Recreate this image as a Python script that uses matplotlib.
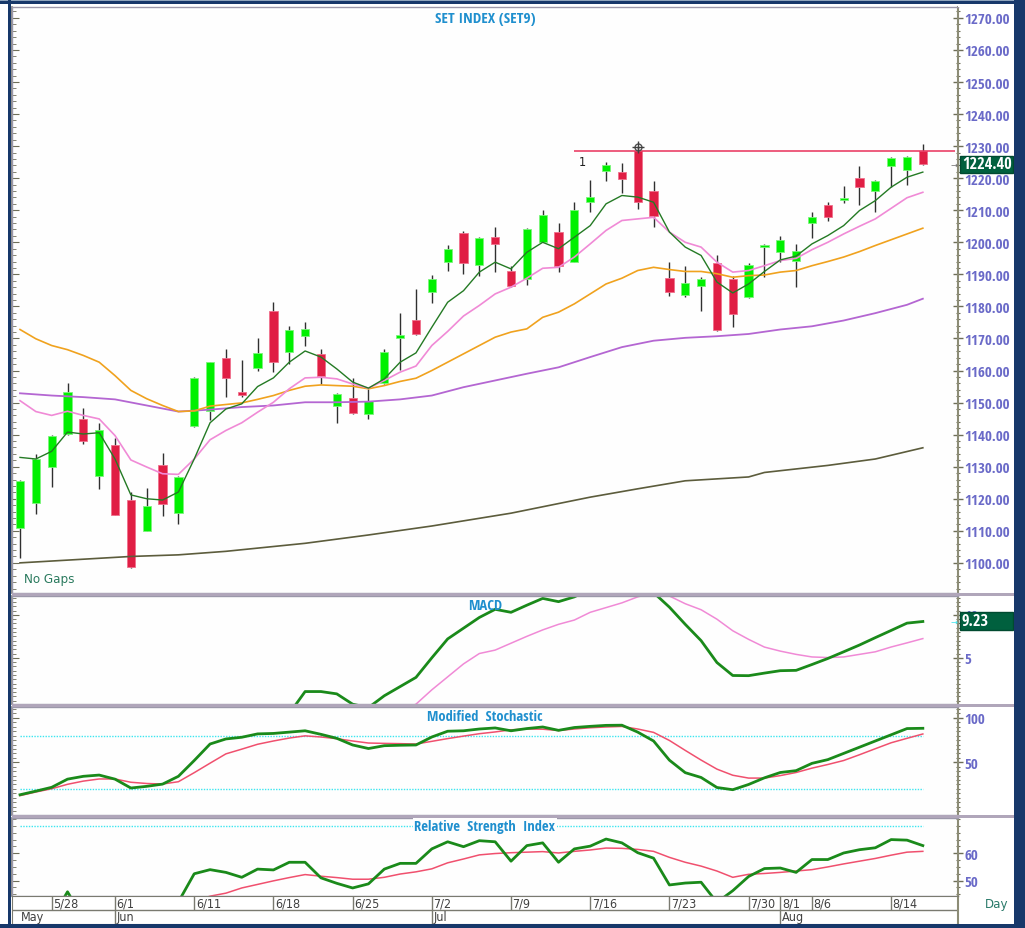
import os
import matplotlib
matplotlib.use('Agg')
import matplotlib.pyplot as plt
import matplotlib.ticker as mtick
import matplotlib.transforms as mtrans
from matplotlib import font_manager
from matplotlib.font_manager import FontProperties
from matplotlib.patches import Rectangle
import numpy as np

# ---------------- data (x = trading day index) ----------------
opens = [1110.9, 1118.7, 1130.0, 1140.1, 1144.9, 1127.2, 1136.9, 1119.7, 1110.0, 1130.6,
         1115.7, 1142.8, 1147.5, 1163.9, 1153.3, 1160.7, 1178.5, 1165.9, 1170.9, 1165.0,
         1148.8, 1151.4, 1146.4, 1156.1, 1170.1, 1175.7, 1184.6, 1193.8, 1202.8, 1193.0,
         1201.8, 1191.2, 1188.6, 1200.2, 1203.2, 1194.0, 1212.7, 1222.1, 1221.9, 1228.6,
         1216.1, 1188.8, 1183.5, 1186.3, 1193.5, 1188.6, 1182.9, 1198.4, 1196.9, 1194.3,
         1206.0, 1211.5, 1213.3, 1220.1, 1216.1, 1223.7, 1222.7, 1228.4]
highs = [1125.8, 1134.0, 1140.0, 1156.1, 1148.3, 1143.6, 1138.9, 1122.1, 1123.3, 1134.3,
         1127.0, 1158.0, 1162.8, 1166.8, 1163.3, 1170.1, 1181.3, 1174.0, 1175.1, 1166.8,
         1153.0, 1157.6, 1154.3, 1166.8, 1177.8, 1185.5, 1189.8, 1199.2, 1203.6, 1201.6,
         1204.8, 1192.7, 1204.4, 1210.2, 1206.0, 1212.5, 1219.3, 1225.0, 1224.7, 1229.7,
         1219.0, 1193.8, 1192.7, 1189.1, 1196.1, 1189.6, 1193.5, 1199.5, 1201.9, 1199.5,
         1209.6, 1212.7, 1217.7, 1223.9, 1219.5, 1226.6, 1226.9, 1230.7]
lows = [1101.6, 1115.3, 1123.6, 1140.0, 1137.0, 1122.9, 1114.8, 1098.5, 1109.8, 1114.7,
        1112.0, 1142.5, 1144.7, 1151.7, 1151.7, 1159.7, 1159.5, 1161.9, 1167.5, 1155.7,
        1143.7, 1146.5, 1144.9, 1155.8, 1160.3, 1171.2, 1181.0, 1191.2, 1190.2, 1189.6,
        1190.7, 1186.0, 1186.8, 1200.0, 1190.7, 1193.8, 1209.4, 1219.0, 1215.3, 1210.4,
        1204.7, 1183.2, 1182.9, 1178.7, 1172.3, 1173.5, 1182.7, 1189.1, 1193.8, 1186.0,
        1201.3, 1206.5, 1212.3, 1211.5, 1209.4, 1217.2, 1218.0, 1224.0]
closes = [1125.6, 1132.4, 1139.6, 1153.3, 1138.1, 1141.3, 1115.0, 1098.7, 1117.8, 1118.3,
          1126.8, 1157.6, 1162.6, 1157.8, 1152.4, 1165.4, 1162.8, 1172.7, 1173.0, 1158.4,
          1152.6, 1146.7, 1150.5, 1165.7, 1171.1, 1171.5, 1188.4, 1198.0, 1193.5, 1201.4,
          1199.6, 1186.3, 1204.2, 1208.6, 1192.6, 1210.2, 1214.2, 1224.2, 1219.6, 1212.7,
          1208.3, 1184.5, 1187.3, 1188.4, 1172.5, 1177.7, 1193.0, 1199.2, 1200.8, 1197.4,
          1207.8, 1207.8, 1213.8, 1217.4, 1219.1, 1226.4, 1226.6, 1224.4]

ma_fast = [1132.9, 1132.4, 1134.8, 1140.8, 1140.2, 1140.6, 1132.4, 1121.2, 1120.0, 1119.6,
           1122.1, 1132.4, 1143.7, 1148.0, 1149.6, 1155.0, 1157.7, 1162.6, 1166.1, 1164.2,
           1160.5, 1156.4, 1154.5, 1157.4, 1162.6, 1165.5, 1173.5, 1181.3, 1184.9, 1190.7,
           1193.8, 1191.7, 1196.9, 1200.0, 1198.0, 1201.6, 1205.2, 1212.0, 1214.6, 1214.1,
           1212.5, 1203.2, 1198.5, 1195.9, 1187.6, 1184.2, 1187.0, 1190.9, 1194.5, 1195.7,
           1199.5, 1202.1, 1205.2, 1209.9, 1213.0, 1217.2, 1220.3, 1221.9]
ma_pink = [1150.6, 1147.2, 1146.0, 1147.3, 1146.0, 1144.9, 1139.7, 1132.1, 1129.9, 1127.8,
           1127.6, 1132.4, 1138.4, 1141.3, 1143.7, 1147.0, 1150.1, 1154.3, 1157.7, 1157.9,
           1157.4, 1155.8, 1154.5, 1156.9, 1159.5, 1161.4, 1167.8, 1172.2, 1177.0, 1180.3,
           1183.9, 1186.0, 1188.8, 1191.9, 1192.2, 1195.4, 1199.5, 1203.7, 1206.8, 1207.3,
           1207.8, 1203.2, 1200.0, 1198.5, 1193.8, 1190.7, 1191.2, 1192.7, 1194.3, 1195.0,
           1197.7, 1200.0, 1202.6, 1205.0, 1207.3, 1210.6, 1213.9, 1215.6]
ma_orange = [1172.8, 1169.9, 1167.8, 1166.5, 1164.7, 1162.6, 1158.4, 1153.8, 1151.2, 1149.1,
             1147.2, 1147.4, 1148.9, 1149.4, 1149.9, 1151.0, 1152.2, 1153.8, 1155.1, 1155.5,
             1155.3, 1155.1, 1154.3, 1155.3, 1156.6, 1157.6, 1160.0, 1162.6, 1165.2, 1167.8,
             1170.4, 1172.0, 1173.0, 1176.6, 1178.2, 1180.8, 1183.9, 1187.0, 1188.8, 1191.2,
             1192.2, 1191.5, 1190.9, 1190.9, 1190.2, 1189.1, 1189.6, 1189.8, 1190.7, 1191.2,
             1192.7, 1194.0, 1195.4, 1197.1, 1199.0, 1200.8, 1202.6, 1204.4]
ma_purple_days = [0, 2, 4, 6, 8, 10, 12, 14, 16, 18, 20, 22, 24, 26, 28, 30,
                  32, 34, 36, 38, 40, 42, 44, 46, 48, 50, 52, 54, 56, 57]
ma_purple = [1152.9, 1152.2, 1151.7, 1151.0, 1149.1, 1147.2, 1147.8, 1148.6, 1149.1, 1150.1,
             1150.1, 1150.3, 1151.0, 1152.2, 1154.8, 1156.9, 1159.0, 1161.0, 1164.2, 1167.3,
             1169.3, 1170.2, 1170.7, 1171.4, 1172.8, 1173.8, 1175.6, 1177.9, 1180.5, 1182.4]
ma_olive_days = [0, 7, 10, 13, 18, 22, 26, 31, 36, 39, 42, 46, 47, 51, 54, 57]
ma_olive = [1100.0, 1102.0, 1102.5, 1103.6, 1106.1, 1108.7, 1111.5, 1115.5, 1120.5, 1123.1,
            1125.6, 1126.8, 1128.2, 1130.4, 1132.4, 1135.9]

resistance_level = 1228.5
resistance_from = 35
peak_day = 39

nan = np.nan
macd = [nan] * 17 + [-1.5, 1.07, 1.07, 0.8, -0.4, -0.8, 0.58, 1.65, 2.72, 5.0, 7.2, 8.45, 9.7,
        10.65, 10.3, 11.13, 11.92, 11.54, 12.1, 13.0, 13.6, 13.8, 13.4, 12.6, 10.9, 8.9, 7.0,
        4.45, 2.94, 2.92, 3.22, 3.5, 3.54, 4.22, 4.92, 5.7, 6.49, 7.35, 8.19, 9.04, 9.23]
macd_signal = [nan] * 24 + [-1.2, -0.4, 1.27, 2.78, 4.29, 5.5, 5.9, 6.7, 7.5, 8.25, 8.9, 9.4,
               10.3, 10.85, 11.4, 12.1, 12.6, 12.2, 11.3, 10.6, 9.5, 8.15, 7.15, 6.25, 5.78,
               5.4, 5.1, 5.03, 5.1, 5.4, 5.7, 6.26, 6.74, 7.24]

stoch_k = [13.4, 17.5, 21.8, 31.0, 34.2, 35.6, 31.0, 21.0, 22.9, 25.4,
           34.2, 52.0, 70.6, 76.3, 78.2, 82.0, 82.5, 84.0, 85.5, 81.5,
           77.0, 69.5, 65.5, 68.7, 69.2, 69.5, 78.5, 85.0, 85.5, 87.5,
           88.7, 85.5, 88.0, 89.8, 86.0, 89.2, 90.5, 91.6, 91.8, 84.0,
           74.0, 52.4, 38.3, 32.9, 21.6, 19.1, 25.0, 32.5, 38.5, 40.6,
           48.8, 53.0, 60.0, 67.0, 74.0, 81.0, 88.0, 88.3]
stoch_d = [12.4, 16.5, 20.2, 25.2, 28.8, 31.2, 31.2, 27.5, 26.1, 25.5,
           28.1, 38.3, 49.0, 59.5, 64.8, 70.3, 74.0, 77.3, 79.8, 78.5,
           76.6, 74.0, 71.7, 71.3, 71.0, 70.6, 73.6, 76.7, 79.5, 82.2,
           84.2, 86.6, 87.5, 87.3, 85.8, 87.5, 88.9, 89.8, 90.4, 87.5,
           83.7, 74.6, 63.4, 52.5, 42.3, 35.4, 32.2, 32.2, 35.0, 38.5,
           43.4, 47.5, 52.0, 58.5, 65.3, 72.0, 77.0, 81.9]

rsi = [nan, nan, 36.0, 45.9, 36.0, nan, nan, nan, nan, nan,
       42.2, 52.5, 54.0, 53.0, 51.2, 54.2, 53.9, 56.7, 56.7, 51.0,
       49.0, 47.3, 48.8, 54.2, 56.3, 56.3, 61.6, 64.2, 62.4, 64.6,
       64.2, 57.1, 62.8, 63.8, 56.7, 61.6, 62.6, 65.2, 63.8, 60.2,
       58.2, 48.4, 49.1, 49.4, 42.0, 46.3, 51.5, 54.4, 54.6, 53.0,
       57.7, 57.7, 60.1, 61.3, 62.0, 65.0, 64.8, 62.8]
rsi_signal = [nan] * 11 + [42.5, 44.3, 45.4, 47.3, 48.6, 49.9, 51.1, 52.2, 51.6, 51.1,
              50.5, 50.5, 51.2, 52.4, 53.2, 54.3, 56.5, 57.9, 59.4, 59.9,
              60.2, 60.4, 60.6, 60.1, 60.7, 61.2, 61.9, 61.8, 61.4, 60.7,
              58.5, 56.7, 55.3, 53.5, 51.2, 52.3, 52.6, 53.0, 53.5, 54.0,
              55.0, 56.1, 57.1, 58.1, 59.3, 60.4, 60.7]

date_ticks = [2, 6, 11, 16, 21, 26, 31, 36, 41, 46, 48, 50, 55]
date_labels = ['5/28', '6/1', '6/11', '6/18', '6/25', '7/2', '7/9', '7/16', '7/23',
               '7/30', '8/1', '8/6', '8/14']
month_starts = [-0.5, 6, 26, 48]
month_labels = ['May', 'Jun', 'Jul', 'Aug']

# ---------------- fonts: the original uses a narrow face ----------------
def find_narrow(bold):
    cands = []
    for f in font_manager.fontManager.ttflist:
        fn = os.path.basename(f.fname).lower()
        st = str(f.stretch).lower()
        if 'mono' in fn or 'cjk' in fn or 'serif' in fn.replace('sans', ''):
            continue
        narrow = ('narrow' in fn or 'condensed' in fn or 'condensed' in st or 'narrow' in st)
        if not narrow or 'oblique' in fn or 'italic' in fn:
            continue
        isbold = 'bold' in fn or str(f.weight) in ('bold', '700')
        if isbold == bold:
            cands.append(f.fname)
    cands.sort(key=lambda p: (0 if 'liberation' in p.lower() else 1, len(p)))
    return cands[0] if cands else None


nb, nr = find_narrow(True), find_narrow(False)
if nb and nr:
    FP_B, FP_R, SCALE = FontProperties(fname=nb), FontProperties(fname=nr), 1.0
else:
    FP_B = FontProperties(family='Liberation Sans', weight='bold')
    FP_R = FontProperties(family='Liberation Sans')
    SCALE = 0.8


def fb(size):
    p = FP_B.copy()
    p.set_size(size * SCALE)
    return p


def fr(size):
    p = FP_R.copy()
    p.set_size(size * SCALE)
    return p


# ---------------- layout / style ----------------
W, H = 1025, 929
X0, X1 = 12, 958
XLIM = (-0.505, 59.22)
AXIS_BLUE = '#6a6ac8'
TITLE_BLUE = '#1f8fce'
CYAN = '#3ce6f0'
FRAME = '#9c98aa'
TICK = '#6e6e58'

days = np.arange(len(closes))
fig = plt.figure(figsize=(W / 100, H / 100), dpi=100)
fig.patch.set_facecolor('white')


def panel(top, bottom):
    return fig.add_axes([X0 / W, 1 - bottom / H, (X1 - X0) / W, (bottom - top) / H])


def style(ax, ylim, major, labels, minor):
    ax.set_xlim(XLIM)
    ax.set_ylim(ylim)
    ax.set_facecolor('#fefefe')
    for s in ax.spines.values():
        s.set_color(FRAME)
        s.set_linewidth(1.0)
    ax.spines['right'].set_color('#8c8c76')
    ax.spines['right'].set_linewidth(1.5)
    ax.xaxis.set_visible(False)
    ax.yaxis.tick_right()
    ax.yaxis.set_major_locator(mtick.FixedLocator(major))
    ax.yaxis.set_major_formatter(mtick.FixedFormatter(labels))
    ax.yaxis.set_minor_locator(mtick.MultipleLocator(minor))
    ax.tick_params(axis='y', which='major', direction='inout', length=7, width=1,
                   color=TICK, pad=1, labelcolor=AXIS_BLUE)
    ax.tick_params(axis='y', which='minor', direction='inout', length=3, width=0.8, color=TICK)
    for lab in ax.get_yticklabels():
        lab.set_fontproperties(fb(10.8))
    left = ax.secondary_yaxis('left')
    left.yaxis.set_major_locator(mtick.FixedLocator(major))
    left.yaxis.set_minor_locator(mtick.MultipleLocator(minor))
    left.tick_params(which='major', direction='in', length=5, color=TICK, labelleft=False)
    left.tick_params(which='minor', direction='in', length=3, color=TICK)
    left.spines['left'].set_color('#7a7a70')
    left.spines['left'].set_linewidth(1.2)


def value_box(ax, value, text, box_px, arrow_color):
    y0, y1 = ax.get_ylim()
    h = box_px / (ax.get_position().height * H) * (y1 - y0)
    trans = mtrans.blended_transform_factory(ax.transAxes, ax.transData)
    ax.add_patch(Rectangle((1.0025, value - h / 2), 0.0555, h, transform=trans,
                           facecolor='#00603e', edgecolor='#004a30', clip_on=False, zorder=6))
    ax.text(1.0040, value, text, transform=trans, va='center', ha='left', color='white',
            fontproperties=fb(11.8), clip_on=False, zorder=7)
    ax.text(0.9955, value, '→', transform=trans, va='center', ha='center',
            color=arrow_color, fontsize=6, clip_on=False, family='DejaVu Sans')


# ---------------- main price panel ----------------
ax = panel(8, 594)
style(ax, (1090.6, 1273.4), list(range(1100, 1271, 10)),
      ['%.2f' % v for v in range(1100, 1271, 10)], 2)

ax.plot(ma_olive_days, ma_olive, color='#5c5c3c', lw=1.2, zorder=3)
ax.plot(ma_purple_days, ma_purple, color='#b466d2', lw=1.3, zorder=3)
ax.plot(days, ma_orange, color='#f0a21e', lw=1.2, zorder=3)
ax.plot(days, ma_pink, color='#f08ad6', lw=1.2, zorder=3)

for d in days:
    o, h, l, c = opens[d], highs[d], lows[d], closes[d]
    up = c >= o
    ax.vlines(d, l, h, color='#303030', lw=1, zorder=2)
    ax.add_patch(Rectangle((d - 0.26, min(o, c)), 0.52, max(abs(c - o), 0.5),
                           facecolor='#00f000' if up else '#e01e44',
                           edgecolor='#7cf47c' if up else '#f0708c', lw=0.6, zorder=2.5))

ax.plot(days, ma_fast, color='#247a24', lw=1.0, zorder=4)

ax.hlines(resistance_level, resistance_from, XLIM[1] - 0.2, color='#e8305a', lw=1.1, zorder=4)
ax.annotate('1', (resistance_from, resistance_level), xytext=(3, -3), textcoords='offset points',
            ha='left', va='top', fontproperties=fr(9), color='#202020')
ax.plot(peak_day, highs[peak_day], marker='o', ms=5, mfc='none', mec='#505050', zorder=5)
ax.plot(peak_day, highs[peak_day], marker='+', ms=8, color='#404040', zorder=5)

ax.text(0.5, 0.994, 'SET INDEX (SET9)', transform=ax.transAxes, ha='center', va='top',
        color=TITLE_BLUE, fontproperties=fb(11))
ax.text(0.0127, 0.013, 'No Gaps', transform=ax.transAxes, ha='left', va='bottom',
        color='#2a7a5e', fontproperties=fr(9.5))
value_box(ax, closes[-1], '%.2f' % closes[-1], 17, '#707070')

# ---------------- MACD ----------------
ax_m = panel(597, 705)
style(ax_m, (-0.38, 12.2), [5, 10], ['5', '10'], 0.5)
ax_m.plot(days, macd_signal, color='#f08ad6', lw=1.1)
ax_m.plot(days, macd, color='#1a8a1a', lw=2.0)
ax_m.text(0.5, 0.985, 'MACD', transform=ax_m.transAxes, ha='center', va='top',
          color=TITLE_BLUE, fontproperties=fb(10.5))
value_box(ax_m, macd[-1], '%.2f' % macd[-1], 18, CYAN)

# ---------------- Modified Stochastic ----------------
ax_s = panel(708, 816)
style(ax_s, (-9.4, 112.3), [50, 100], ['50', '100'], 5)
ax_s.plot([days[0], days[-1]], [80, 80], color=CYAN, lw=1, ls=(0, (1, 1)))
ax_s.plot([days[0], days[-1]], [20, 20], color=CYAN, lw=1, ls=(0, (1, 1)))
ax_s.plot(days, stoch_d, color='#f0506e', lw=1.1)
ax_s.plot(days, stoch_k, color='#1a8a1a', lw=2.0)
ax_s.text(0.5, 0.985, 'Modified  Stochastic', transform=ax_s.transAxes, ha='center', va='top',
          color=TITLE_BLUE, fontproperties=fb(10.5))

# ---------------- RSI ----------------
ax_r = panel(819, 897)
style(ax_r, (44.36, 72.9), [50, 60], ['50', '60'], 2.5)
ax_r.plot([days[0], days[-1]], [70, 70], color=CYAN, lw=1, ls=(0, (1, 1)))
ax_r.plot(days, rsi_signal, color='#f0506e', lw=1.1)
ax_r.plot(days, rsi, color='#1a8a1a', lw=2.0)
ax_r.text(0.5, 0.985, 'Relative  Strength  Index', transform=ax_r.transAxes, ha='center',
          va='top', color=TITLE_BLUE, fontproperties=fb(10.5),
          bbox=dict(facecolor='#fefefe', edgecolor='none', pad=1))

# ---------------- date rows ----------------
ax_d = panel(897, 925)
ax_d.set_xlim(XLIM)
ax_d.set_ylim(0, 2)
ax_d.set_xticks([])
ax_d.set_yticks([])
for s in ax_d.spines.values():
    s.set_color('#7a7a70')
ax_d.spines['right'].set_color('#8c8c76')
ax_d.spines['right'].set_linewidth(1.5)
ax_d.axhline(1, color='#7a7a70', lw=1)
ax_d.vlines(date_ticks, 1, 2, color='#7a7a70', lw=1)
for d, lab in zip(date_ticks, date_labels):
    ax_d.text(d + 0.1, 1.5, lab, ha='left', va='center', fontproperties=fr(9), color='#404040')
ax_d.vlines(month_starts[1:], 0, 1, color='#7a7a70', lw=1)
for d, lab in zip(month_starts, month_labels):
    ax_d.text(d + 0.55 if d < 0 else d + 0.1, 0.5, lab, ha='left', va='center',
              fontproperties=fr(9), color='#404040')
fig.text(997 / W, 1 - 905 / H, 'Day', ha='center', va='center', fontproperties=fr(9.5),
         color='#2a7a6a')

# ---------------- outer frame ----------------
def frame_rect(x0, y0, x1, y1, color):
    fig.patches.append(Rectangle((x0 / W, 1 - y1 / H), (x1 - x0) / W, (y1 - y0) / H,
                                 transform=fig.transFigure, facecolor=color,
                                 edgecolor='none', zorder=10))


for y in (594, 705, 816):
    frame_rect(X0, y, 1014, y + 3, '#b0a6ba')
frame_rect(0, 0, W, 1.5, '#8fa4bc')
frame_rect(0, 1.5, W, 4.5, '#17386a')
frame_rect(7.5, 0, 10.5, H, '#17386a')
frame_rect(1014, 0, W, H, '#17386a')
frame_rect(0, 925, W, H, '#17386a')
frame_rect(958, 4.5, 1014, 8, '#fefefe')

fig.savefig('out.png', dpi=100, facecolor=fig.get_facecolor())
